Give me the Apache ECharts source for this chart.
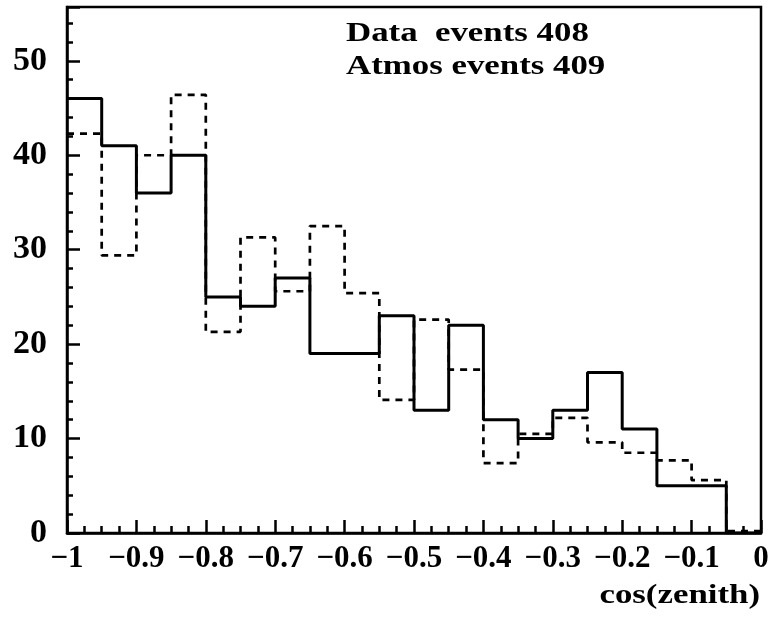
<!DOCTYPE html>
<html>
<head>
<meta charset="utf-8">
<script src="https://cdn.jsdelivr.net/npm/echarts@6/dist/echarts.min.js"></script>
<style>
  html, body { margin: 0; padding: 0; background: #fff; }
  #container { width: 773px; height: 621px; }
</style>
</head>
<body>
<div id="container"></div>
<script>
// bin low edges in cos(zenith), width 0.05
var binEdges = [-1, -0.95, -0.9, -0.85, -0.8, -0.75, -0.7, -0.65, -0.6, -0.55,
                -0.5, -0.45, -0.4, -0.35, -0.3, -0.25, -0.2, -0.15, -0.1, -0.05];
var binEnd = 0;
// observed events per bin (solid)
var dataCounts = [46, 41, 36, 40, 25, 24, 27, 19, 19, 23,
                  13, 22, 12, 10, 13, 17, 11, 5, 5, 0];
// atmospheric MC expectation per bin (dashed)
var atmosCounts = [42.3, 29.4, 40.0, 46.4, 21.3, 31.3, 25.6, 32.5, 25.4, 14.1,
                   22.6, 17.3, 7.4, 10.5, 12.2, 9.6, 8.5, 7.7, 5.6, 0.2];
var legendLines = ['Data  events 408', 'Atmos events 409'];
var xTitle = 'cos(zenith)';

var dom = document.getElementById('container');
var myChart = echarts.init(dom);
var serif = 'Liberation Serif';
var textFont = 'bold 27px ' + serif;
var stretch = 1.29;   // the original lettering is wider than plain Times

// histogram as step line: one point per low edge + closing point at the last edge
var toSteps = function(vals){
    var pts = [];
    for (var i = 0; i < binEdges.length; i++) {
        pts.push([binEdges[i], vals[i]]);
    }
    pts.push([binEnd, vals[vals.length - 1]]);
    return pts;
};

var option = {
    animation: false,
    backgroundColor: '#fff',
    grid: {
        left: 67, right: 12, top: 7, bottom: 88,
        show: true,
        borderColor: '#000',
        borderWidth: 2.5
    },
    xAxis: {
        type: 'value',
        min: -1, max: 0, interval: 0.1,
        axisLine: { show: true, onZero: false, lineStyle: { color: '#000', width: 2.5 } },
        axisTick: { inside: true, length: 13, lineStyle: { color: '#000', width: 2.5 } },
        minorTick: { show: true, splitNumber: 4, length: 7, lineStyle: { color: '#000', width: 2.5 } },
        splitLine: { show: false },
        axisLabel: {
            margin: 10,
            color: '#000',
            fontFamily: serif, fontWeight: 'bold', fontSize: 31,
            formatter: function(v){
                var s = Math.round(v * 10) / 10;
                return s < 0 ? '\u2212' + String(-s) : String(s);
            }
        }
    },
    yAxis: {
        type: 'value',
        min: 0, max: 55.7, interval: 10,
        axisLine: { show: true, onZero: false, lineStyle: { color: '#000', width: 2.5 } },
        axisTick: { inside: true, length: 13, lineStyle: { color: '#000', width: 2.5 } },
        minorTick: { show: true, splitNumber: 5, length: 6, lineStyle: { color: '#000', width: 2.5 } },
        splitLine: { show: false },
        axisLabel: {
            margin: 20,
            showMaxLabel: false,
            color: '#000',
            fontFamily: serif, fontWeight: 'bold', fontSize: 34
        }
    },
    series: [
        {
            name: 'Atmos',
            type: 'line',
            step: 'end',
            symbol: 'none',
            data: toSteps(atmosCounts),
            lineStyle: { color: '#000', width: 2.7, type: [7, 6] },
            z: 2
        },
        {
            name: 'Data',
            type: 'line',
            step: 'end',
            symbol: 'none',
            data: toSteps(dataCounts),
            lineStyle: { color: '#000', width: 3 },
            z: 3
        }
    ],
    graphic: [
        {
            type: 'text', x: 346, y: 21, scaleX: stretch,
            style: { text: legendLines[0], fill: '#000', font: textFont, align: 'left', verticalAlign: 'top' }
        },
        {
            type: 'text', x: 346, y: 54, scaleX: stretch,
            style: { text: legendLines[1], fill: '#000', font: textFont, align: 'left', verticalAlign: 'top' }
        },
        {
            type: 'text', x: 760, y: 583, scaleX: stretch,
            style: { text: xTitle, fill: '#000', font: textFont, align: 'right', verticalAlign: 'top' }
        }
    ]
};

myChart.setOption(option, true);
</script>
</body>
</html>
